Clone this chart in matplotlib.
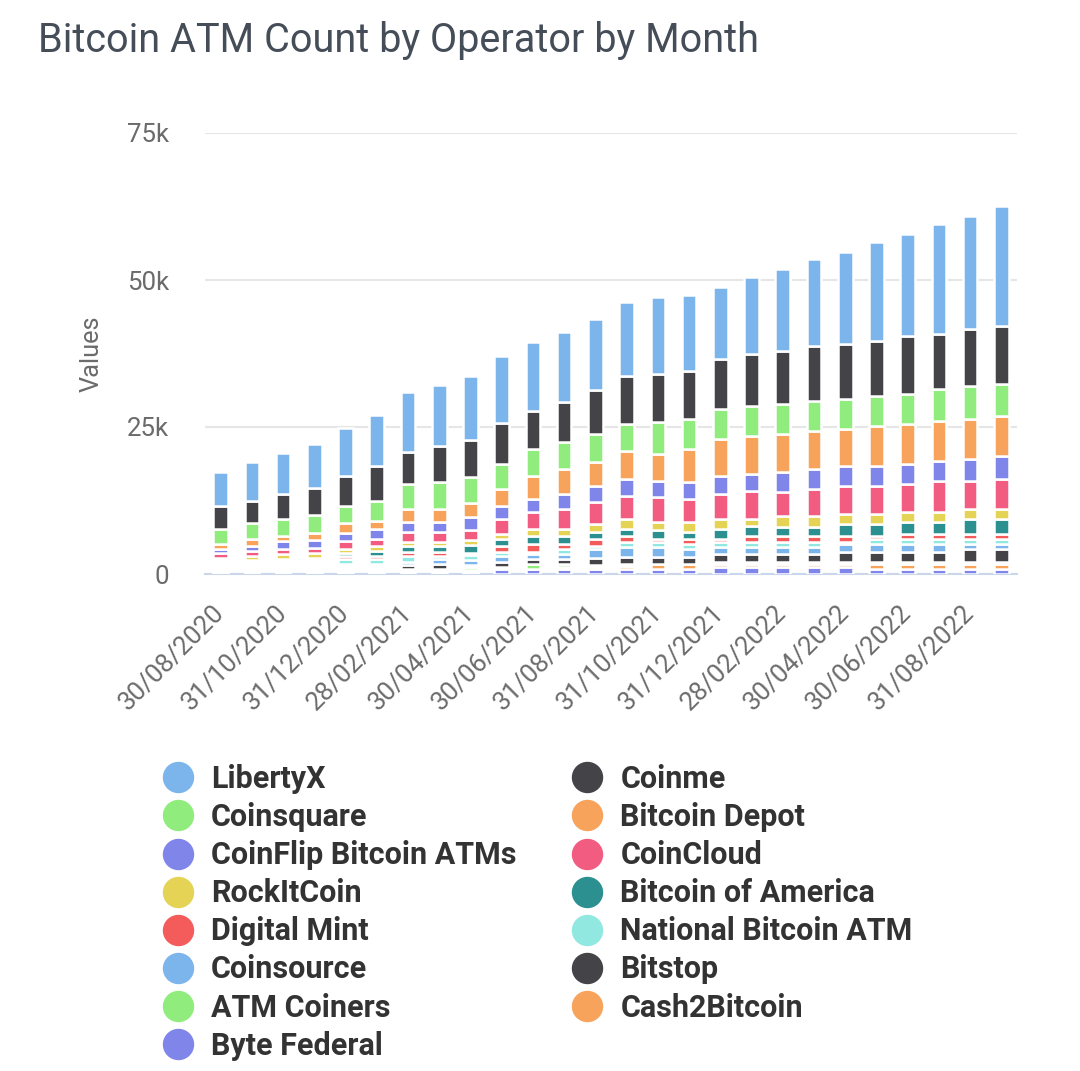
import matplotlib.pyplot as plt
from matplotlib.lines import Line2D
import numpy as np

plt.rcParams['font.family'] = ['Roboto', 'DejaVu Sans']

# month-end dates, one bar each (only every second one is labelled)
months = ['30/08/2020', '30/09/2020', '31/10/2020', '30/11/2020', '31/12/2020',
          '31/01/2021', '28/02/2021', '31/03/2021', '30/04/2021', '31/05/2021',
          '30/06/2021', '31/07/2021', '31/08/2021', '30/09/2021', '31/10/2021',
          '30/11/2021', '31/12/2021', '31/01/2022', '28/02/2022', '31/03/2022',
          '30/04/2022', '31/05/2022', '30/06/2022', '31/07/2022', '31/08/2022',
          '30/09/2022']

# ATM counts in thousands
libertyx = [5.8, 6.7, 7.0, 7.45, 8.2, 8.7, 10.2, 10.5, 10.9, 11.4, 11.7, 11.8, 12.0,
            12.6, 13.1, 13.0, 12.2, 13.1, 13.9, 14.75, 15.6, 16.9, 17.35, 18.65, 19.1, 20.35]
coinme = [3.85, 3.8, 4.3, 4.65, 5.1, 6.0, 5.5, 6.0, 6.4, 6.9, 6.4, 6.8, 7.5,
          8.1, 8.2, 8.1, 8.5, 8.9, 8.95, 9.4, 9.4, 9.4, 9.8, 9.35, 9.8, 9.8]
coinsquare = [2.55, 2.6, 2.95, 3.0, 3.0, 3.4, 4.2, 4.6, 4.3, 4.2, 4.7, 4.6, 4.7,
              4.65, 5.4, 5.1, 5.1, 5.1, 5.15, 5.05, 5.1, 5.1, 5.15, 5.5, 5.5, 5.55]
bitcoin_depot = [0.85, 1.25, 0.85, 1.3, 1.7, 1.3, 2.2, 2.2, 2.5, 3.0, 3.8, 4.3, 4.2,
                 4.65, 4.7, 5.6, 6.4, 6.4, 6.4, 6.4, 6.4, 6.8, 6.8, 6.85, 6.8, 6.8]
coinflip = [0.8, 0.85, 1.3, 1.25, 1.3, 1.7, 1.7, 1.7, 2.2, 2.2, 2.2, 2.55, 2.6,
            3.0, 2.6, 2.95, 3.0, 3.0, 3.4, 3.4, 3.4, 3.4, 3.4, 3.4, 3.85, 3.85]
coincloud = [0.85, 0.8, 0.8, 0.85, 1.3, 1.3, 1.7, 1.7, 1.7, 2.5, 3.0, 3.45, 3.8,
             3.85, 4.3, 3.85, 4.25, 4.65, 4.2, 4.65, 4.7, 4.7, 4.7, 5.15, 4.7, 5.1]
rockitcoin = [0.3, 0.8, 0.85, 0.85, 0.8, 0.8, 0.8, 0.8, 0.8, 0.9, 1.2, 1.2, 1.3,
              1.75, 1.3, 1.7, 1.75, 1.3, 1.75, 1.8, 1.7, 1.7, 1.7, 1.7, 1.7, 1.7]
bitcoin_of_america = [0.3, 0.3, 0.35, 0.35, 0.45, 0.9, 0.9, 0.9, 1.3, 1.2, 1.3, 1.3, 1.3,
                      1.2, 1.6, 1.3, 1.7, 1.7, 1.65, 1.65, 2.1, 2.1, 2.1, 2.1, 2.55, 2.55]
digital_mint = [0.3, 0.3, 0.3, 0.35, 0.45, 0.4, 0.8, 0.8, 0.4, 0.9, 1.3, 0.9, 1.2,
                0.9, 0.5, 0.8, 0.4, 0.9, 0.9, 0.9, 0.9, 0.5, 0.9, 0.9, 0.9, 0.9]
national_bitcoin_atm = [0.3, 0.3, 0.35, 0.35, 0.9, 0.9, 0.9, 0.5, 0.9, 0.8, 0.45, 0.8, 0.5,
                        0.85, 0.85, 0.9, 0.85, 0.85, 0.85, 0.85, 0.45, 0.8, 0.8, 0.8, 0.8, 0.8]
coinsource = [0.3, 0.3, 0.3, 0.35, 0.35, 0.35, 0.5, 0.8, 0.8, 0.9, 0.85, 0.9, 1.4,
              1.7, 1.7, 1.25, 1.25, 1.25, 1.25, 1.25, 1.25, 1.3, 1.3, 1.3, 0.9, 0.9]
bitstop = [0.3, 0.3, 0.35, 0.35, 0.35, 0.35, 0.75, 0.85, 0.4, 0.85, 0.8, 0.8, 1.2,
           1.25, 1.25, 1.25, 1.3, 1.3, 1.3, 1.3, 1.7, 1.7, 1.7, 1.7, 2.1, 2.1]
atm_coiners = [0.3, 0.3, 0.3, 0.35, 0.35, 0.35, 0.3, 0.3, 0.4, 0.25, 0.9, 0.45, 0.4,
               0.4, 0.0, 0.0, 0.4, 0.4, 0.4, 0.4, 0.4, 0.45, 0.45, 0.45, 0.45, 0.45]
cash2bitcoin = [0.25, 0.2, 0.3, 0.35, 0.3, 0.3, 0.25, 0.25, 0.4, 0.2, 0.0, 0.45, 0.4,
                0.4, 0.75, 0.8, 0.45, 0.45, 0.45, 0.45, 0.45, 0.85, 0.85, 0.85, 0.85, 0.85]
byte_federal = [0.3, 0.3, 0.35, 0.35, 0.35, 0.35, 0.3, 0.3, 0.35, 0.8, 0.8, 0.8, 0.8,
                0.9, 0.9, 0.9, 1.25, 1.25, 1.25, 1.25, 1.25, 0.8, 0.8, 0.8, 0.8, 0.8]

operators = ['LibertyX', 'Coinme', 'Coinsquare', 'Bitcoin Depot', 'CoinFlip Bitcoin ATMs',
             'CoinCloud', 'RockItCoin', 'Bitcoin of America', 'Digital Mint',
             'National Bitcoin ATM', 'Coinsource', 'Bitstop', 'ATM Coiners',
             'Cash2Bitcoin', 'Byte Federal']
series = [libertyx, coinme, coinsquare, bitcoin_depot, coinflip, coincloud, rockitcoin,
          bitcoin_of_america, digital_mint, national_bitcoin_atm, coinsource, bitstop,
          atm_coiners, cash2bitcoin, byte_federal]
palette = ['#7cb5ec', '#434348', '#90ed7d', '#f7a35c', '#8085e9',
           '#f15c80', '#e4d354', '#2b908f', '#f45b5b', '#91e8e1']
colors = [palette[i % len(palette)] for i in range(len(operators))]

fig = plt.figure(figsize=(10.8, 10.71), dpi=100)
ax = fig.add_axes([205 / 1080, 1 - 574 / 1071, 812 / 1080, 441 / 1071])

# 堆叠柱：第一个系列在最上面
x = np.arange(len(months))
bottom = np.zeros(len(months))
for vals, c in reversed(list(zip(series, colors))):
    ax.bar(x, vals, 0.47, bottom=bottom, color=c, edgecolor='white',
           linewidth=1.8, zorder=3)
    bottom += np.array(vals)

ax.set_xlim(-0.5, len(months) - 0.5)
ax.set_ylim(0, 75)
ax.set_yticks([0, 25, 50, 75])
ax.set_yticklabels(['0', '25k', '50k', '75k'])
ax.set_xticks(x[::2])
ax.set_xticklabels(months[::2], rotation=45, ha='right', va='center',
                   rotation_mode='anchor')
ax.tick_params(axis='y', length=0, pad=26, labelsize=18.6, labelcolor='#6b6b6b')
ax.tick_params(axis='x', length=0, pad=25, labelsize=18.6, labelcolor='#6b6b6b')

ax.set_axisbelow(True)
ax.yaxis.grid(True, color='#e6e6e6', linewidth=1.5)
for s in ['top', 'right', 'left']:
    ax.spines[s].set_visible(False)
ax.spines['bottom'].set_color('#ccd6eb')
ax.spines['bottom'].set_linewidth(1.5)

ax.set_ylabel('Values', fontsize=18.3, color='#6b6b6b')
ax.yaxis.set_label_coords(-0.125, 0.5)

fig.text(38 / 1080, 1 - 41 / 1071, 'Bitcoin ATM Count by Operator by Month',
         fontsize=28.5, color='#454d58', ha='left', va='center')

# 图例：两列，按行排列（左列先）
left = list(range(0, len(operators), 2))
right = list(range(1, len(operators), 2))
order = left + right
handles = [Line2D([], [], marker='o', linestyle='', markersize=21.6,
                  markerfacecolor=colors[i], markeredgecolor=colors[i]) for i in order]
labels = [operators[i] for i in order]
fig.legend(handles, labels, ncol=2, loc='upper left',
           bbox_to_anchor=(162.7 / 1080, 1 - 764 / 1071), frameon=False,
           prop={'size': 22, 'weight': 'bold'}, labelcolor='#333333',
           handlelength=1.0, handletextpad=0.58, columnspacing=1.82,
           labelspacing=0.265, borderpad=0, borderaxespad=0)

fig.savefig('out.png', dpi=100)
